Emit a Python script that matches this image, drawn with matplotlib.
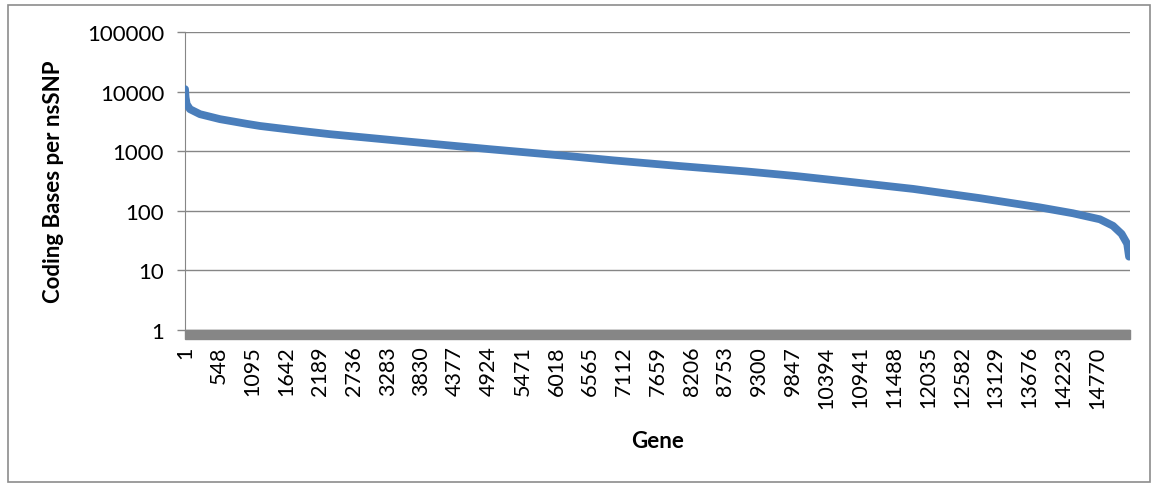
import matplotlib.pyplot as plt
from matplotlib.patches import Rectangle
from matplotlib.ticker import FixedLocator, FixedFormatter, NullLocator

plt.rcParams['font.family'] = ['Lato', 'DejaVu Sans']

# genes ranked by coding bases per nsSNP
n_genes = 15305
gene = [1, 10, 28, 81, 243, 567, 1000, 1215, 1862, 2348, 3644, 4939, 6235,
        6936, 8016, 9096, 9906, 10716, 11794, 12874, 13846, 14380, 14818,
        15030, 15169, 15260, 15290]
bases_per_snp = [11000, 8000, 6150, 5070, 4180, 3450, 2880, 2650, 2200, 1930,
                 1440, 1080, 824, 702, 563, 457, 382, 310, 233, 163, 114, 91,
                 72, 56, 41, 28, 17]

tick_genes = list(range(1, 14771, 547))
tick_labels = [str(g) for g in tick_genes]
y_ticks = [1, 10, 100, 1000, 10000, 100000]

grey = '#868686'
blue = '#4A7EBB'

fig = plt.figure(figsize=(11.58, 4.89), dpi=100)
ax = fig.add_axes([185/1158, 158/489, 945/1158, 298/489])

ax.plot(gene, bases_per_snp, color=blue, lw=5.6, solid_capstyle='round',
        solid_joinstyle='round', zorder=3)

ax.set_yscale('log')
ax.set_ylim(1, 100000)
ax.set_xlim(0.5, n_genes + 0.5)

ax.yaxis.set_major_locator(FixedLocator(y_ticks))
ax.yaxis.set_major_formatter(FixedFormatter([str(v) for v in y_ticks]))
ax.yaxis.set_minor_locator(NullLocator())
ax.grid(axis='y', color=grey, lw=1)
ax.set_axisbelow(True)

ax.xaxis.set_major_locator(FixedLocator(tick_genes))
ax.xaxis.set_major_formatter(FixedFormatter(tick_labels))
ax.tick_params(axis='x', length=0, pad=11, labelsize=15.5, rotation=90)
ax.tick_params(axis='y', length=6, width=1, color=grey, pad=9, labelsize=16)

for s in ['top', 'right']:
    ax.spines[s].set_visible(False)
ax.spines['left'].set_color(grey)
ax.spines['bottom'].set_color(grey)

# dense category tick marks form a solid band under the axis
band = Rectangle((0, -9/298), 1, 9/298, transform=ax.transAxes,
                 color=grey, clip_on=False, zorder=4)
ax.add_patch(band)

ax.set_xlabel('Gene', fontsize=16, fontweight='bold')
ax.set_ylabel('Coding Bases per nsSNP', fontsize=16, fontweight='bold')
ax.xaxis.set_label_coords(0.5, -0.335)
ax.yaxis.set_label_coords(-0.128, 0.5)

# chart border
fig.patches.append(Rectangle((8/1158, 6/489), 1142/1158, 477/489,
                             transform=fig.transFigure, fill=False,
                             edgecolor='#8C8C8C', lw=1.2))

fig.savefig('out.png', dpi=100)
